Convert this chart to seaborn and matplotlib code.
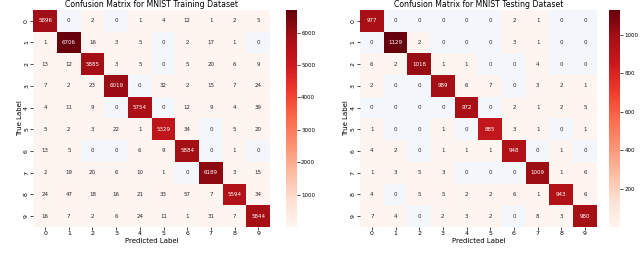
import numpy as np
import pandas as pd
import matplotlib
matplotlib.use('Agg')
import matplotlib.pyplot as plt
import seaborn as sns

digits = [str(i) for i in range(10)]

# rows = true digit, cols = predicted digit
train_cm = [
    [5896, 0, 2, 0, 1, 4, 12, 1, 2, 5],
    [1, 6706, 16, 3, 5, 0, 2, 17, 1, 0],
    [13, 12, 5885, 3, 5, 0, 5, 20, 6, 9],
    [7, 2, 23, 6019, 0, 32, 2, 15, 7, 24],
    [4, 11, 9, 0, 5754, 0, 12, 9, 4, 39],
    [5, 2, 3, 22, 1, 5329, 34, 0, 5, 20],
    [13, 5, 0, 0, 6, 9, 5884, 0, 1, 0],
    [2, 19, 20, 6, 10, 1, 0, 6189, 3, 15],
    [24, 47, 18, 16, 21, 33, 57, 7, 5594, 34],
    [16, 7, 2, 6, 24, 11, 1, 31, 7, 5844],
]

test_cm = [
    [977, 0, 0, 0, 0, 0, 2, 1, 0, 0],
    [0, 1129, 2, 0, 0, 0, 3, 1, 0, 0],
    [6, 2, 1018, 1, 1, 0, 0, 4, 0, 0],
    [2, 0, 0, 989, 6, 7, 0, 3, 2, 1],
    [0, 0, 0, 0, 972, 0, 2, 1, 2, 5],
    [1, 0, 0, 1, 0, 885, 3, 1, 0, 1],
    [4, 2, 0, 1, 1, 1, 948, 0, 1, 0],
    [1, 3, 5, 3, 0, 0, 0, 1009, 1, 6],
    [4, 0, 5, 5, 2, 2, 6, 1, 943, 6],
    [7, 4, 0, 2, 3, 2, 0, 8, 3, 980],
]

titles = ['Confusion Matrix for MNIST Training Dataset',
          'Confusion Matrix for MNIST Testing Dataset']

# zeros get a pale blue instead of the lightest red
cmap = matplotlib.colormaps['Reds'].copy()
cmap.set_under('#f3f7fc')

fig = plt.figure(figsize=(6.4, 2.6), dpi=100)
panels = [
    (fig.add_axes([0.052, 0.127, 0.370, 0.835]), fig.add_axes([0.447, 0.127, 0.017, 0.835])),
    (fig.add_axes([0.5625, 0.127, 0.370, 0.835]), fig.add_axes([0.952, 0.127, 0.017, 0.835])),
]

for (ax, cax), cm, title in zip(panels, [train_cm, test_cm], titles):
    df = pd.DataFrame(cm, index=digits, columns=digits)
    sns.heatmap(df, annot=True, fmt='d', cmap=cmap, vmin=0.5, ax=ax, cbar_ax=cax,
                annot_kws={'fontsize': 4})
    ax.set_title(title, fontsize=5.6, pad=2)
    ax.set_xlabel('Predicted Label', fontsize=5, labelpad=1)
    ax.set_ylabel('True Label', fontsize=5, labelpad=1)
    ax.tick_params(labelsize=4.5, length=2, width=0.5, pad=1)
    cax.tick_params(labelsize=4, length=2, width=0.5, pad=1)
    cax.set_frame_on(False)

plt.savefig('out.png', dpi=100)
plt.close()
